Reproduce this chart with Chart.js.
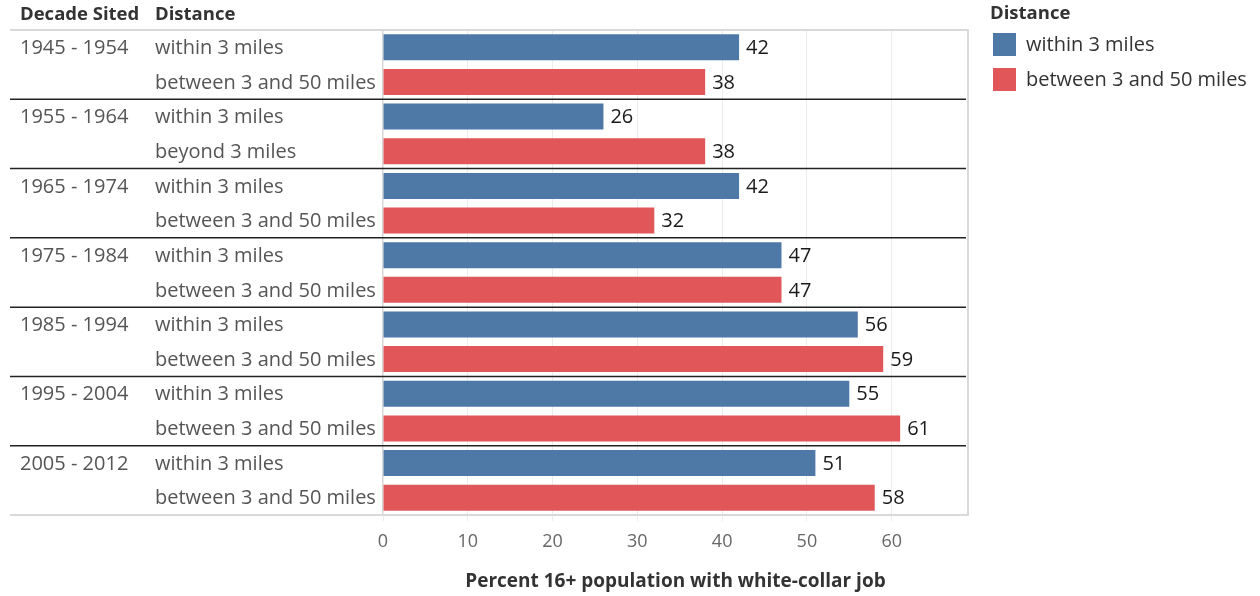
<!DOCTYPE html>
<html>
<head>
<meta charset="utf-8">
<script src="https://cdn.jsdelivr.net/npm/chart.js@4/dist/chart.umd.min.js"></script>
<style>
  html, body { margin: 0; padding: 0; background: #fff; }
  #wrap { width: 1260px; height: 596px; position: relative; }
</style>
</head>
<body>
<div id="wrap"><canvas id="chart" width="1260" height="596"></canvas></div>
<script>
const decades = ["1945 - 1954", "1955 - 1964", "1965 - 1974", "1975 - 1984", "1985 - 1994", "1995 - 2004", "2005 - 2012"];
const nearLabel = "within 3 miles";
const farLabels = ["between 3 and 50 miles", "beyond 3 miles", "between 3 and 50 miles", "between 3 and 50 miles",
    "between 3 and 50 miles", "between 3 and 50 miles", "between 3 and 50 miles"];
const nearValues = [42, 26, 42, 47, 56, 55, 51];
const farValues = [38, 38, 32, 47, 59, 61, 58];
const xTicks = [0, 10, 20, 30, 40, 50, 60];
const legendLabels = ["within 3 miles", "between 3 and 50 miles"];

const blue = "#4e79a7";
const red = "#e15759";
const font = "'Open Sans', Lato, sans-serif";

// two rows per decade: near first, then far
const rowLabels = [];
const rowValues = [];
const rowColors = [];
decades.forEach((d, i) => {
    rowLabels.push(d + "|" + nearLabel);
    rowValues.push(nearValues[i]);
    rowColors.push(blue);
    rowLabels.push(d + "|" + farLabels[i]);
    rowValues.push(farValues[i]);
    rowColors.push(red);
});

const tablePlugin = {
    id: "table",
    beforeDatasetsDraw(chart) {
        const ctx = chart.ctx;
        const area = chart.chartArea;
        ctx.save();
        // left edge line of the plot pane
        ctx.strokeStyle = "#d6d6d6";
        ctx.lineWidth = 1;
        ctx.beginPath();
        ctx.moveTo(area.left - 0.5, area.top);
        ctx.lineTo(area.left - 0.5, area.bottom);
        ctx.stroke();
        ctx.restore();
    },
    afterDatasetsDraw(chart) {
        const ctx = chart.ctx;
        const area = chart.chartArea;
        const yScale = chart.scales.y;
        const meta = chart.getDatasetMeta(0);
        const rowH = yScale.getPixelForValue(1) - yScale.getPixelForValue(0);
        ctx.save();

        // value labels at bar ends
        ctx.font = "20px " + font;
        ctx.fillStyle = "#1a1a1a";
        ctx.textBaseline = "middle";
        ctx.textAlign = "left";
        meta.data.forEach((bar, i) => {
            ctx.fillText(String(rowValues[i]), bar.x + 7, bar.y + 1);
        });

        // header row
        ctx.font = "bold 18.5px " + font;
        ctx.fillStyle = "#333";
        ctx.fillText("Decade Sited", 20, 15);
        ctx.fillText("Distance", 155, 15);

        // row headers
        ctx.font = "20px " + font;
        ctx.fillStyle = "#555";
        rowLabels.forEach((lab, i) => {
            const parts = lab.split("|");
            const y = yScale.getPixelForValue(i) + 1;
            if (i % 2 === 0) ctx.fillText(parts[0], 20, y);
            ctx.fillText(parts[1], 155, y);
        });

        // pane borders
        ctx.strokeStyle = "#d9d9d9";
        ctx.lineWidth = 2;
        ctx.beginPath();
        ctx.moveTo(10, area.top);
        ctx.lineTo(area.right, area.top);
        ctx.moveTo(10, area.bottom);
        ctx.lineTo(area.right, area.bottom);
        ctx.moveTo(area.right, area.top - 1);
        ctx.lineTo(area.right, area.bottom + 1);
        ctx.stroke();

        // separators between decades
        ctx.strokeStyle = "#222";
        ctx.lineWidth = 1.5;
        for (let g = 1; g < decades.length; g++) {
            const y = yScale.getPixelForValue(g * 2) - rowH / 2;
            ctx.beginPath();
            ctx.moveTo(10, y);
            ctx.lineTo(area.right - 2, y);
            ctx.stroke();
        }

        // legend
        ctx.font = "bold 18.5px " + font;
        ctx.fillStyle = "#333";
        ctx.fillText("Distance", 990, 14);
        ctx.font = "20px " + font;
        [blue, red].forEach((c, i) => {
            const top = 33 + i * 35;
            ctx.fillStyle = c;
            ctx.fillRect(993, top, 23, 23);
            ctx.fillStyle = "#333";
            ctx.fillText(legendLabels[i], 1026, top + 12);
        });
        ctx.restore();
    }
};

new Chart(document.getElementById("chart"), {
    type: "bar",
    data: {
        labels: rowLabels,
        datasets: [{
            data: rowValues,
            backgroundColor: rowColors,
            borderColor: rowColors,
            borderWidth: 0,
            categoryPercentage: 1,
            barPercentage: 0.75
        }]
    },
    options: {
        indexAxis: "y",
        responsive: false,
        animation: false,
        layout: { padding: { left: 383, right: 292, top: 30, bottom: 3 } },
        plugins: {
            legend: { display: false },
            tooltip: { enabled: false }
        },
        scales: {
            y: {
                display: false
            },
            x: {
                min: 0,
                max: 69,
                afterFit(scale) { scale.height = 78; },
                afterBuildTicks(scale) { scale.ticks = xTicks.map(v => ({ value: v })); },
                border: { display: false },
                grid: { color: "#ececec", lineWidth: 1, tickLength: 6 },
                ticks: {
                    color: "#666",
                    padding: 10,
                    font: { family: font, size: 18 }
                },
                title: {
                    display: true,
                    text: "Percent 16+ population with white-collar job",
                    color: "#333",
                    padding: { top: 4, bottom: 0 },
                    font: { family: font, size: 19, weight: "bold" }
                }
            }
        }
    },
    plugins: [tablePlugin]
});
</script>
</body>
</html>
